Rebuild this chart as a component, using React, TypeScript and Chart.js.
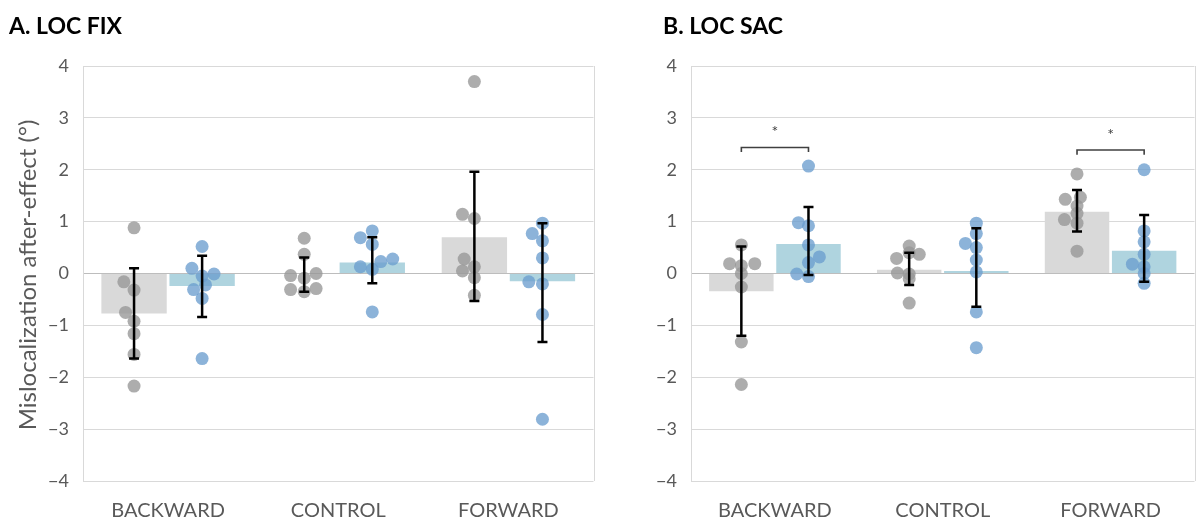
import React, { useEffect, useRef } from "react";
import { Chart, registerables } from "chart.js";

Chart.register(...registerables);

// ---------- shared ----------
const categories = ["BACKWARD", "CONTROL", "FORWARD"];
const yTickValues = [-4, -3, -2, -1, 0, 1, 2, 3, 4];
const yAxisTitle = "Mislocalization after-effect (°)";

// ---------- Panel A: LOC FIX ----------
const aTitle = "A. LOC FIX";
const aGreyMean = [-0.77, -0.01, 0.7];
const aGreyLow = [-1.64, -0.35, -0.53];
const aGreyHigh = [0.1, 0.31, 1.96];
const aBlueMean = [-0.24, 0.21, -0.15];
const aBlueLow = [-0.84, -0.19, -1.32];
const aBlueHigh = [0.34, 0.7, 0.97];
const aGreyPoints = [
  [0.88, -0.16, -0.32, -0.75, -0.92, -1.16, -1.56, -2.17],
  [0.68, 0.37, -0.04, 0.0, -0.09, -0.31, -0.29, -0.35],
  [3.7, 1.14, 1.06, 0.28, 0.05, 0.13, -0.08, -0.42],
];
const aGreyJitter = [
  [0, -0.06, 0, -0.05, 0, 0, 0, 0],
  [0, 0, -0.08, 0.07, 0, -0.08, 0.07, 0],
  [0, -0.07, 0, -0.06, -0.07, 0, 0, 0],
];
const aBluePoints = [
  [0.52, 0.1, -0.01, -0.05, -0.22, -0.31, -0.48, -1.64],
  [0.69, 0.82, 0.56, 0.13, 0.08, 0.23, 0.28, -0.74],
  [0.97, 0.77, 0.63, 0.3, -0.16, -0.2, -0.79, -2.81],
];
const aBlueJitter = [
  [0, -0.06, 0.07, 0, 0.02, -0.05, 0, 0],
  [-0.07, 0, 0, -0.07, 0, 0.05, 0.12, 0],
  [0, -0.06, 0, 0, -0.08, 0, 0, 0],
];
const aBrackets: { cat: number; y: number }[] = [];

// ---------- Panel B: LOC SAC ----------
const bTitle = "B. LOC SAC";
const bGreyMean = [-0.34, 0.07, 1.19];
const bGreyLow = [-1.2, -0.22, 0.81];
const bGreyHigh = [0.52, 0.4, 1.61];
const bBlueMean = [0.57, 0.05, 0.44];
const bBlueLow = [-0.03, -0.64, -0.16];
const bBlueHigh = [1.28, 0.87, 1.13];
const bGreyPoints = [
  [0.55, 0.19, 0.19, 0.15, 0.0, -0.26, -1.32, -2.14],
  [0.53, 0.4, 0.37, 0.29, 0.01, -0.01, -0.1, -0.57],
  [1.92, 1.43, 1.47, 1.3, 1.16, 1.04, 0.97, 0.43],
];
const bGreyJitter = [
  [0, -0.07, 0.08, 0, 0, 0, 0, 0],
  [0, 0, 0.06, -0.075, -0.07, 0, 0, 0],
  [0, -0.07, 0.02, 0, 0, -0.075, 0, 0],
];
const bBluePoints = [
  [2.07, 0.98, 0.92, 0.55, 0.32, 0.21, -0.01, -0.06],
  [0.97, 0.77, 0.58, 0.5, 0.26, 0.03, -0.74, -1.43],
  [2.0, 0.82, 0.61, 0.37, 0.18, 0.13, 0.0, -0.19],
];
const bBlueJitter = [
  [0, -0.06, 0, 0, 0.065, 0, -0.07, 0],
  [0, 0, -0.065, 0, 0, 0, 0, 0],
  [0, 0, 0, 0, -0.07, 0, 0, 0],
];
const bBrackets = [
  { cat: 0, y: 2.43 },
  { cat: 2, y: 2.38 },
];

// ---------- styling ----------
const GREY_BAR = "#d9d9d9";
const BLUE_BAR = "#afd4df";
const GREY_DOT = "rgba(150,150,150,0.78)";
const BLUE_DOT = "rgba(108,158,206,0.78)";
const GRID = "#d9d9d9";
const ZERO = "#bdbdbd";
const TEXT = "#595959";
const FONT = "Lato, 'Open Sans', sans-serif";
const GROUP_OFFSET = 0.2; // grey bars left of category centre, blue bars right

type Panel = {
  title: string;
  showYTitle: boolean;
  greyMean: number[];
  greyLow: number[];
  greyHigh: number[];
  blueMean: number[];
  blueLow: number[];
  blueHigh: number[];
  greyPoints: number[][];
  greyJitter: number[][];
  bluePoints: number[][];
  blueJitter: number[][];
  brackets: { cat: number; y: number }[];
  yAxisWidth: number;
  padRight: number;
  titleX: number;
};

function buildBars(means: number[], side: number) {
  return means.map((v, i) => ({ x: i + side * GROUP_OFFSET, y: v }));
}

function buildPoints(pts: number[][], jit: number[][], side: number) {
  const out: { x: number; y: number }[] = [];
  pts.forEach((arr, i) =>
    arr.forEach((v, k) => out.push({ x: i + side * GROUP_OFFSET + jit[i][k], y: v }))
  );
  return out;
}

function makeConfig(p: Panel): any {
  const overlay = {
    id: "overlay",
    beforeDatasetsDraw(chart: any) {
      const { ctx, chartArea } = chart;
      ctx.save();
      ctx.strokeStyle = GRID;
      ctx.lineWidth = 1;
      ctx.beginPath();
      ctx.moveTo(Math.round(chartArea.right) + 0.5, chartArea.top);
      ctx.lineTo(Math.round(chartArea.right) + 0.5, chartArea.bottom);
      ctx.stroke();
      ctx.restore();
    },
    afterDatasetsDraw(chart: any) {
      const { ctx } = chart;
      const ys = chart.scales.y;
      const xs = chart.scales.x;
      ctx.save();
      // error bars
      const sets = [
        { side: -1, low: p.greyLow, high: p.greyHigh },
        { side: 1, low: p.blueLow, high: p.blueHigh },
      ];
      ctx.strokeStyle = "#000";
      ctx.lineWidth = 2.5;
      sets.forEach((s) => {
        s.low.forEach((lo, i) => {
          const x = xs.getPixelForValue(i + s.side * GROUP_OFFSET);
          const y1 = ys.getPixelForValue(s.high[i]);
          const y2 = ys.getPixelForValue(lo);
          ctx.beginPath();
          ctx.moveTo(x, y1);
          ctx.lineTo(x, y2);
          ctx.moveTo(x - 5, y1);
          ctx.lineTo(x + 5, y1);
          ctx.moveTo(x - 5, y2);
          ctx.lineTo(x + 5, y2);
          ctx.stroke();
        });
      });
      // significance brackets
      ctx.strokeStyle = "#404040";
      ctx.fillStyle = "#404040";
      ctx.lineWidth = 1.6;
      p.brackets.forEach((br) => {
        const x1 = xs.getPixelForValue(br.cat - GROUP_OFFSET);
        const x2 = xs.getPixelForValue(br.cat + GROUP_OFFSET);
        const yTop = ys.getPixelForValue(br.y);
        const yEnd = ys.getPixelForValue(br.y - 0.09);
        ctx.beginPath();
        ctx.moveTo(x1, yEnd);
        ctx.lineTo(x1, yTop);
        ctx.lineTo(x2, yTop);
        ctx.lineTo(x2, yEnd);
        ctx.stroke();
        ctx.font = `16px ${FONT}`;
        ctx.textAlign = "center";
        ctx.textBaseline = "middle";
        ctx.fillText("*", (x1 + x2) / 2, ys.getPixelForValue(br.y + 0.3));
      });
      ctx.restore();
    },
    afterDraw(chart: any) {
      const { ctx } = chart;
      ctx.save();
      ctx.fillStyle = "#000";
      ctx.font = `bold 23px ${FONT}`;
      ctx.textAlign = "left";
      ctx.textBaseline = "alphabetic";
      ctx.fillText(p.title, p.titleX, 34);
      if (p.showYTitle) {
        ctx.translate(28, 275);
        ctx.rotate(-Math.PI / 2);
        ctx.fillStyle = TEXT;
        ctx.font = `24px ${FONT}`;
        ctx.textAlign = "center";
        ctx.textBaseline = "middle";
        ctx.fillText(yAxisTitle, 0, 0);
      }
      ctx.restore();
    },
  };

  return {
    type: "bar",
    data: {
      datasets: [
        {
          type: "bar",
          data: buildBars(p.greyMean, -1),
          backgroundColor: GREY_BAR,
          grouped: false,
          categoryPercentage: 1,
          barPercentage: 0.96,
          order: 2,
        },
        {
          type: "bar",
          data: buildBars(p.blueMean, 1),
          backgroundColor: BLUE_BAR,
          grouped: false,
          categoryPercentage: 1,
          barPercentage: 0.96,
          order: 2,
        },
        {
          type: "scatter",
          data: buildPoints(p.greyPoints, p.greyJitter, -1),
          backgroundColor: GREY_DOT,
          borderWidth: 0,
          pointRadius: 6.5,
          order: 1,
        },
        {
          type: "scatter",
          data: buildPoints(p.bluePoints, p.blueJitter, 1),
          backgroundColor: BLUE_DOT,
          borderWidth: 0,
          pointRadius: 6.5,
          order: 1,
        },
      ],
    },
    options: {
      responsive: false,
      animation: false,
      devicePixelRatio: 1,
      layout: { padding: { top: 66, right: p.padRight, left: 0, bottom: 0 } },
      plugins: {
        legend: { display: false },
        tooltip: { enabled: false },
      },
      scales: {
        x: {
          type: "linear",
          min: -0.5,
          max: 2.5,
          offset: false,
          grid: { display: false, offset: false },
          border: { display: false },
          afterBuildTicks(scale: any) {
            scale.ticks = categories.map((_, i) => ({ value: i }));
          },
          ticks: {
            color: TEXT,
            font: { family: FONT, size: 20 },
            padding: 10,
            maxRotation: 0,
            autoSkip: false,
            callback: (v: number) => categories[v] ?? "",
          },
          afterFit(scale: any) {
            scale.height = 37;
          },
        },
        y: {
          type: "linear",
          min: -4,
          max: 4,
          afterBuildTicks(scale: any) {
            scale.ticks = yTickValues.map((v) => ({ value: v }));
          },
          ticks: {
            color: TEXT,
            font: { family: FONT, size: 18 },
            padding: 14,
            callback: (v: number) => (v < 0 ? "\u2212" + Math.abs(v) : String(v)),
          },
          grid: {
            color: (c: any) => (c.tick && c.tick.value === 0 ? ZERO : GRID),
            lineWidth: 1,
            drawTicks: false,
          },
          border: { display: true, color: GRID },
          afterFit(scale: any) {
            scale.width = p.yAxisWidth;
          },
        },
      },
    },
    plugins: [overlay],
  };
}

const panelA: Panel = {
  title: aTitle,
  showYTitle: true,
  greyMean: aGreyMean,
  greyLow: aGreyLow,
  greyHigh: aGreyHigh,
  blueMean: aBlueMean,
  blueLow: aBlueLow,
  blueHigh: aBlueHigh,
  greyPoints: aGreyPoints,
  greyJitter: aGreyJitter,
  bluePoints: aBluePoints,
  blueJitter: aBlueJitter,
  brackets: aBrackets,
  yAxisWidth: 83,
  padRight: 5,
  titleX: 9,
};

const panelB: Panel = {
  title: bTitle,
  showYTitle: false,
  greyMean: bGreyMean,
  greyLow: bGreyLow,
  greyHigh: bGreyHigh,
  blueMean: bBlueMean,
  blueLow: bBlueLow,
  blueHigh: bBlueHigh,
  greyPoints: bGreyPoints,
  greyJitter: bGreyJitter,
  bluePoints: bBluePoints,
  blueJitter: bBlueJitter,
  brackets: bBrackets,
  yAxisWidth: 91,
  padRight: 1,
  titleX: 63,
};

function PanelChart({ panel, left, width }: { panel: Panel; left: number; width: number }) {
  const ref = useRef<HTMLCanvasElement | null>(null);
  useEffect(() => {
    if (!ref.current) return;
    const chart = new Chart(ref.current, makeConfig(panel));
    return () => chart.destroy();
  }, [panel]);
  return (
    <canvas
      ref={ref}
      width={width}
      height={518}
      style={{ position: "absolute", left, top: 0, width, height: 518 }}
    />
  );
}

export default function App() {
  return (
    <div
      style={{
        position: "absolute",
        left: 0,
        top: 0,
        width: 1201,
        height: 518,
        background: "#fff",
        overflow: "hidden",
      }}
    >
      <PanelChart panel={panelA} left={0} width={600} />
      <PanelChart panel={panelB} left={600} width={601} />
    </div>
  );
}
